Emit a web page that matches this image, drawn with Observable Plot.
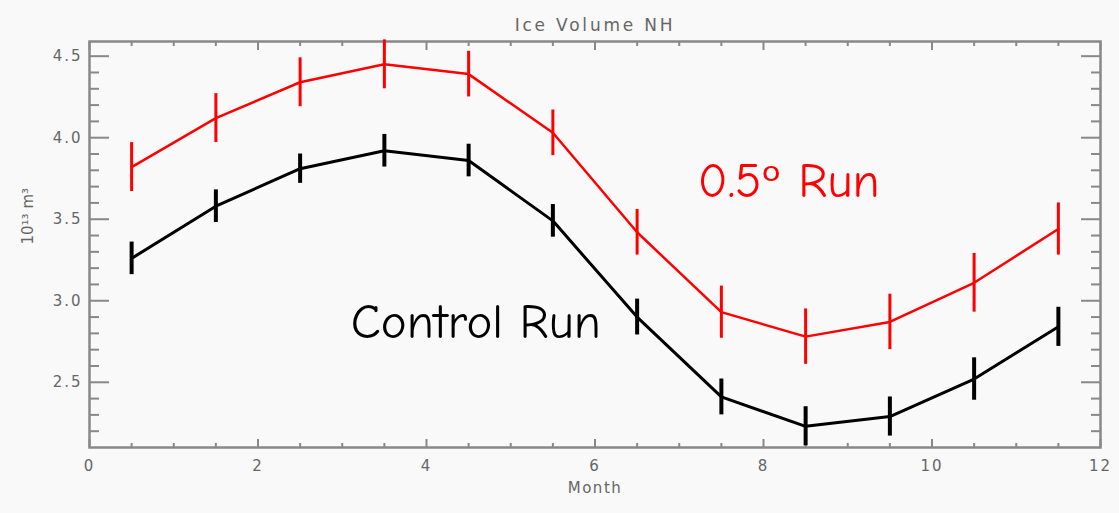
<!DOCTYPE html>
<html>
<head>
<meta charset="utf-8">
<script src="https://cdn.jsdelivr.net/npm/d3@7"></script>
<script src="https://cdn.jsdelivr.net/npm/@observablehq/plot@0.6"></script>
<style>
  html, body { margin: 0; padding: 0; background: #f9f9f9; }
  #chart svg { display: block; }
  #chart g[aria-label="y-axis tick label"] text,
  #chart g[aria-label="x-axis tick label"] text { letter-spacing: 2px; }
  #chart g[aria-description="chart title"] text { letter-spacing: 2.8px; }
  #chart g[aria-description="axis title"] text { letter-spacing: 1.5px; }
</style>
</head>
<body>
<div id="chart"></div>
<script>
const months = [0.5, 1.5, 2.5, 3.5, 4.5, 5.5, 6.5, 7.5, 8.5, 9.5, 10.5, 11.5];
const controlRun = [3.26, 3.58, 3.81, 3.92, 3.86, 3.49, 2.90, 2.41, 2.23, 2.29, 2.52, 2.84];
const controlErr = [0.10, 0.10, 0.09, 0.10, 0.10, 0.10, 0.11, 0.11, 0.12, 0.12, 0.13, 0.12];
const halfDegRun = [3.82, 4.12, 4.34, 4.45, 4.39, 4.03, 3.42, 2.93, 2.78, 2.87, 3.11, 3.44];
const halfDegErr = [0.15, 0.15, 0.15, 0.15, 0.14, 0.14, 0.14, 0.16, 0.17, 0.17, 0.18, 0.16];

const xMajor = [0, 2, 4, 6, 8, 10, 12];
const xMinor = [0.5, 1, 1.5, 2.5, 3, 3.5, 4.5, 5, 5.5, 6.5, 7, 7.5, 8.5, 9, 9.5, 10.5, 11, 11.5];
const yMajor = [2.5, 3.0, 3.5, 4.0, 4.5];
const yMinor = [2.2, 2.3, 2.4, 2.6, 2.7, 2.8, 2.9, 3.1, 3.2, 3.3, 3.4, 3.6, 3.7, 3.8, 3.9, 4.1, 4.2, 4.3, 4.4];

const title = "Ice Volume NH";
const xLabel = "Month";
const yLabel = "10¹³ m³";
const labels = [
  {text: "0.5ᵒ Run", month: 7.22, value: 3.73, color: "#ff0000"},
  {text: "Control Run", month: 3.10, value: 2.87, color: "#000000"}
];

const series = [
  {name: "Control Run", values: controlRun, errs: controlErr, color: "#000000", lw: 3, ew: 4},
  {name: "0.5 Run", values: halfDegRun, errs: halfDegErr, color: "#ff0000", lw: 2.5, ew: 3}
];
const rows = series.flatMap(s => months.map((m, i) => ({
  series: s.name, month: m, value: s.values[i], lo: s.values[i] - s.errs[i], hi: s.values[i] + s.errs[i]
})));

const axisColor = "#888888";
const textColor = "#666666";
const tickFont = "DejaVu Sans, sans-serif";

const marks = [];
marks.push(Plot.axisY(yMajor, {anchor: "left", tickSize: 0, tickPadding: 7, tickFormat: d3.format(".1f"),
  fontSize: 15, fill: textColor, label: null}));
marks.push(Plot.axisX(xMajor, {anchor: "bottom", tickSize: 0, tickPadding: 13, tickFormat: d => String(d),
  fontSize: 15, fill: textColor, label: null}));
for (const anchor of ["left", "right"]) {
  marks.push(Plot.axisY(yMajor, {anchor, tickSize: -20, text: null, stroke: axisColor, strokeWidth: 2, label: null}));
  marks.push(Plot.axisY(yMinor, {anchor, tickSize: -10, text: null, stroke: axisColor, strokeWidth: 2, label: null}));
}
for (const anchor of ["top", "bottom"]) {
  marks.push(Plot.axisX(xMajor, {anchor, tickSize: -8, text: null, stroke: axisColor, strokeWidth: 2, label: null}));
  marks.push(Plot.axisX(xMinor, {anchor, tickSize: -4, text: null, stroke: axisColor, strokeWidth: 2, label: null}));
}
marks.push(Plot.frame({stroke: axisColor, strokeWidth: 2.5}));

for (const s of series) {
  const data = rows.filter(r => r.series === s.name);
  marks.push(Plot.line(data, {x: "month", y: "value", stroke: s.color, strokeWidth: s.lw, strokeLinejoin: "round"}));
  marks.push(Plot.ruleX(data, {x: "month", y1: "lo", y2: "hi", stroke: s.color, strokeWidth: s.ew}));
}

marks.push(Plot.text(labels, {x: "month", y: "value", text: "text", fill: "color", fontSize: 49,
  textAnchor: "start", lineAnchor: "middle", fontFamily: "'Comic Sans MS', 'Comic Neue', 'DejaVu Sans', sans-serif"}));

marks.push(Plot.text([title], {frameAnchor: "top", text: d => d, dy: -23, fontSize: 17, fill: textColor,
  fontFamily: tickFont, ariaDescription: "chart title"}));
marks.push(Plot.text([xLabel], {frameAnchor: "bottom", text: d => d, dy: 45, fontSize: 15, fill: textColor,
  fontFamily: tickFont, ariaDescription: "axis title"}));
marks.push(Plot.text([yLabel], {frameAnchor: "left", text: d => d, dx: -61, rotate: -90, fontSize: 15, fill: textColor,
  fontFamily: tickFont}));

const chart = Plot.plot({
  width: 1119,
  height: 513,
  marginLeft: 89,
  marginRight: 19,
  marginTop: 41,
  marginBottom: 66,
  style: {background: "#f9f9f9", fontFamily: tickFont},
  x: {domain: [0, 12], axis: null},
  y: {domain: [2.1, 4.59], axis: null},
  marks
});
document.getElementById("chart").appendChild(chart);
</script>
</body>
</html>
